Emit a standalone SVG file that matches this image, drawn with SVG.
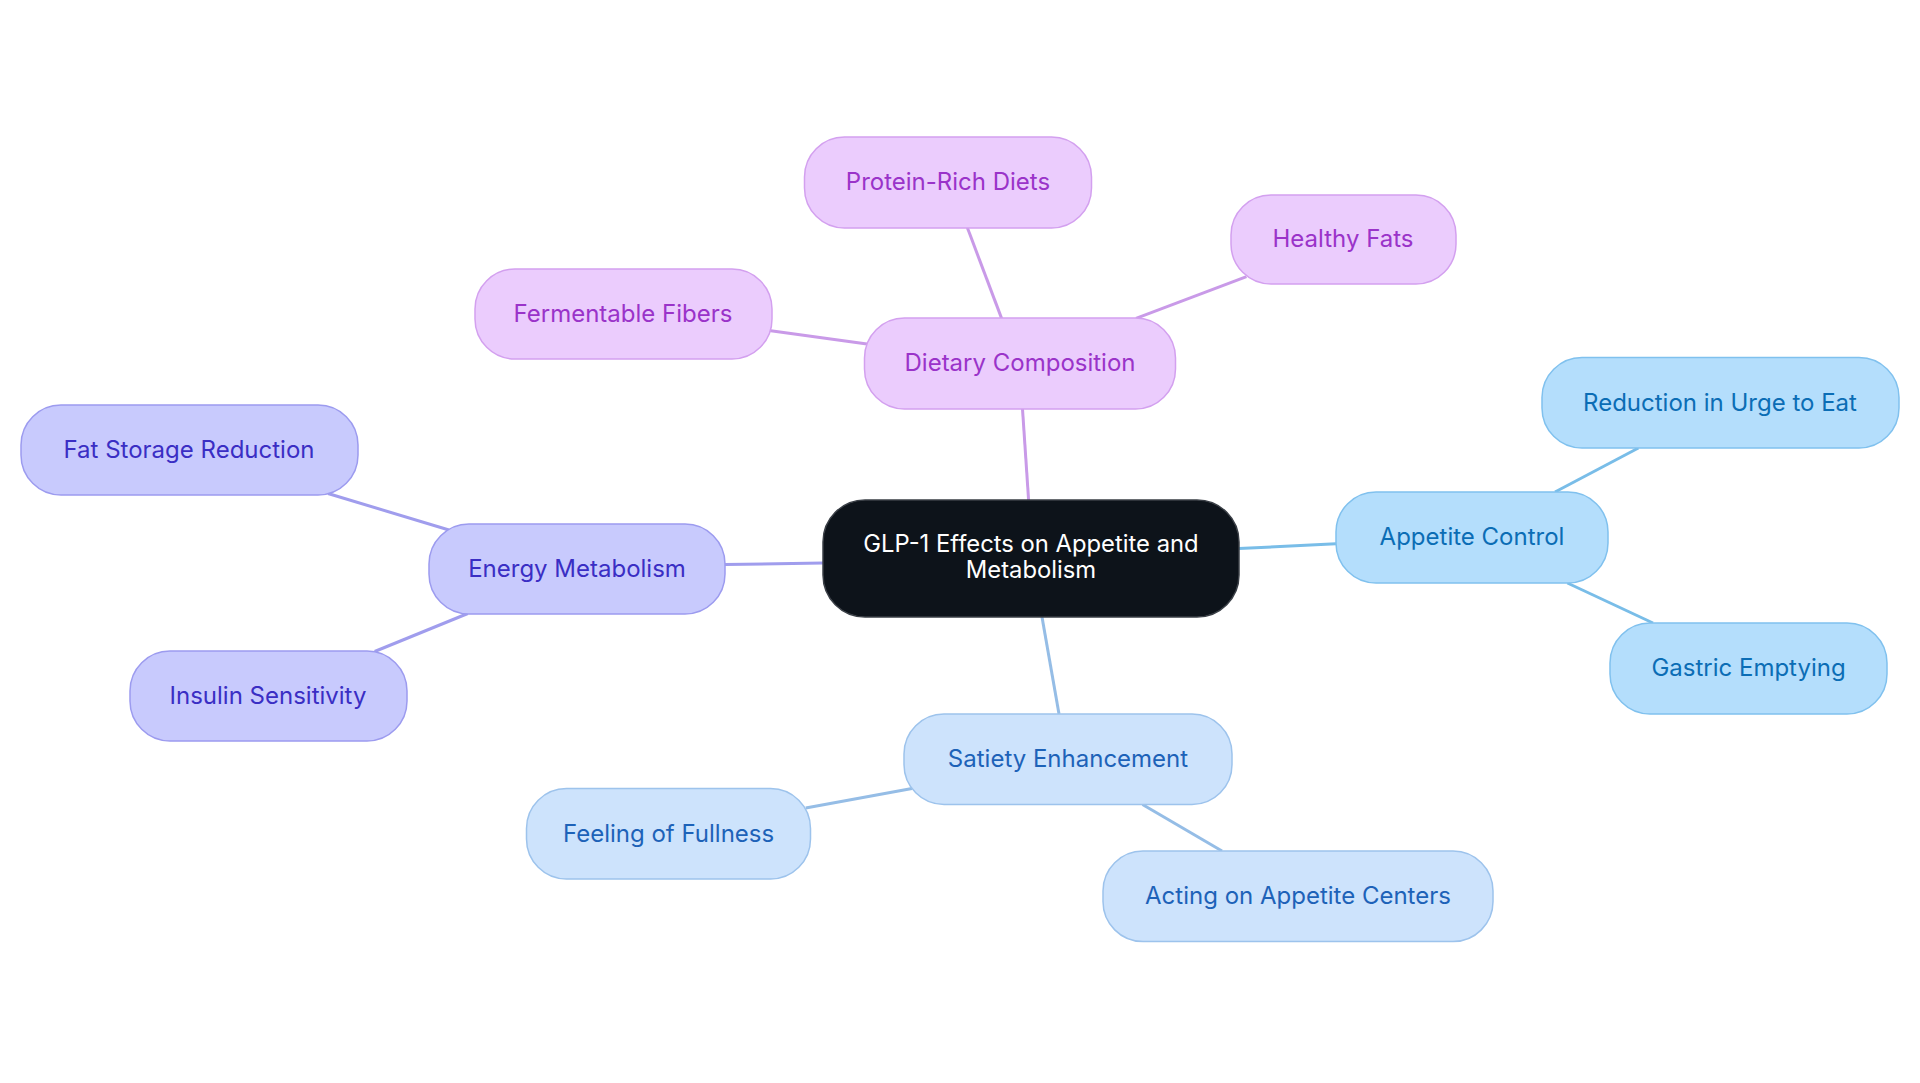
<svg xmlns="http://www.w3.org/2000/svg" width="1920" height="1083" viewBox="0 0 1920 1083">
<style>
text{font-family:Inter,"Open Sans","Liberation Sans",sans-serif;font-size:24px;text-anchor:middle;dominant-baseline:central}
.e{fill:none;stroke-width:3}
.c0 rect{fill:#0d131a;stroke:#3a3f46;stroke-width:1.5}
.c0 text{fill:#ffffff;font-size:23.8px}
.em rect{fill:#c8cafd;stroke:#9c9bef;stroke-width:1.5}
.em text{fill:#3a2ec4}
.dc rect{fill:#ebccfd;stroke:#d3a0ef;stroke-width:1.5}
.dc text{fill:#9a33c9}
.ac rect{fill:#b4defc;stroke:#80c1ee;stroke-width:1.5}
.ac text{fill:#0b6db5}
.se rect{fill:#cde3fc;stroke:#9dc3ec;stroke-width:1.5}
.se text{fill:#1d62b8}
</style>
<rect width="1920" height="1083" fill="#ffffff"/>
<g id="connectors">
<line class="e" stroke="#c99ae8" x1="1028.6" y1="500" x2="1022.5" y2="409"/>
<line class="e" stroke="#a09ded" x1="823" y1="563" x2="725" y2="564.5"/>
<line class="e" stroke="#79bde8" x1="1239" y1="548.6" x2="1336" y2="543.7"/>
<line class="e" stroke="#95bde6" x1="1042" y1="617" x2="1059" y2="714"/>
<line class="e" stroke="#a09ded" x1="449" y1="530" x2="328" y2="493.5"/>
<line class="e" stroke="#a09ded" x1="467.8" y1="613.5" x2="374.7" y2="651.5"/>
<line class="e" stroke="#c99ae8" x1="867" y1="344" x2="769" y2="330.6"/>
<line class="e" stroke="#c99ae8" x1="1001.6" y1="318.4" x2="967.4" y2="227.8"/>
<line class="e" stroke="#c99ae8" x1="1136" y1="318.4" x2="1246.5" y2="276.7"/>
<line class="e" stroke="#79bde8" x1="1555" y1="492" x2="1638.4" y2="448"/>
<line class="e" stroke="#79bde8" x1="1567.4" y1="583" x2="1653" y2="623"/>
<line class="e" stroke="#95bde6" x1="912" y1="788.6" x2="805.7" y2="808"/>
<line class="e" stroke="#95bde6" x1="1142.5" y1="804.5" x2="1222" y2="851"/>
</g>
<g id="n-center" class="c0"><rect x="823" y="500" width="416" height="117" rx="42"/><text x="1031" y="543.5">GLP-1 Effects on Appetite and</text><text x="1031" y="569.5">Metabolism</text></g>
<g id="n-energy" class="em"><rect x="429" y="524" width="296" height="90" rx="40"/><text x="577" y="568.5">Energy Metabolism</text></g>
<g id="n-fat" class="em"><rect x="21" y="405" width="337" height="90" rx="40"/><text x="189" y="449.5">Fat Storage Reduction</text></g>
<g id="n-insulin" class="em"><rect x="130" y="651" width="277" height="90" rx="40"/><text x="268" y="695.5">Insulin Sensitivity</text></g>
<g id="n-dietary" class="dc"><rect x="864.5" y="318" width="311" height="91" rx="40"/><text x="1020" y="362.5">Dietary Composition</text></g>
<g id="n-fibers" class="dc"><rect x="475" y="269" width="297" height="90" rx="40"/><text x="623" y="313.5">Fermentable Fibers</text></g>
<g id="n-protein" class="dc"><rect x="804.5" y="137" width="287" height="91" rx="40"/><text x="948" y="181.5">Protein-Rich Diets</text></g>
<g id="n-fats" class="dc"><rect x="1231" y="195" width="225" height="89" rx="40"/><text x="1343" y="238.5">Healthy Fats</text></g>
<g id="n-appetite" class="ac"><rect x="1336" y="492" width="272" height="91" rx="40"/><text x="1472" y="536.5">Appetite Control</text></g>
<g id="n-urge" class="ac"><rect x="1542" y="357.5" width="357" height="90.5" rx="40"/><text x="1720" y="402">Reduction in Urge to Eat</text></g>
<g id="n-gastric" class="ac"><rect x="1610" y="623" width="277" height="91" rx="40"/><text x="1748.5" y="667.5">Gastric Emptying</text></g>
<g id="n-satiety" class="se"><rect x="904" y="714" width="328" height="90.5" rx="40"/><text x="1068" y="758.5">Satiety Enhancement</text></g>
<g id="n-fullness" class="se"><rect x="526.5" y="788.6" width="284" height="90.4" rx="40"/><text x="668.6" y="833.5">Feeling of Fullness</text></g>
<g id="n-acting" class="se"><rect x="1103" y="851" width="390" height="90.6" rx="40"/><text x="1298" y="895.5">Acting on Appetite Centers</text></g>
</svg>
